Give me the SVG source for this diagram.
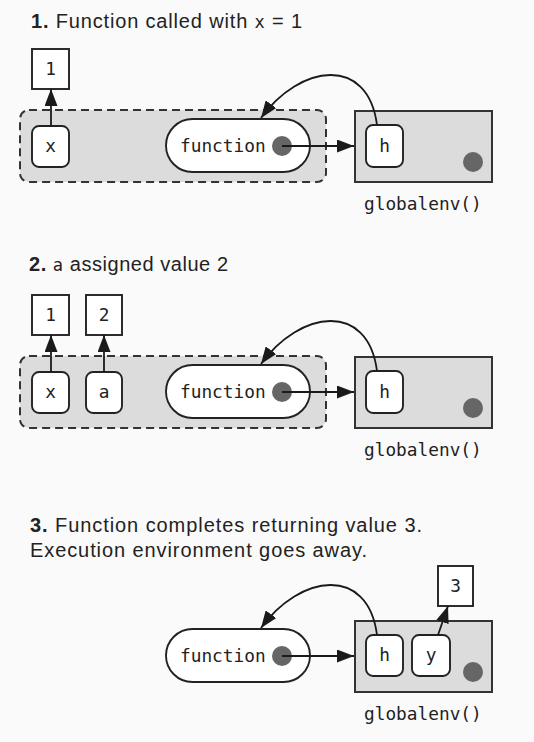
<svg xmlns="http://www.w3.org/2000/svg" width="534" height="742" viewBox="0 0 534 742">
<style>
.bg{fill:#fafafa}
.title{font-family:"Liberation Sans",Arial,sans-serif;font-size:20px;fill:#222}
.b{font-weight:bold}
.code{font-family:"DejaVu Sans Mono","Liberation Mono",monospace;font-size:17px}
.mono{font-family:"DejaVu Sans Mono","Liberation Mono",monospace;font-size:17.8px;fill:#222}
.env{fill:#dcdcdc;stroke:#333;stroke-width:2;stroke-dasharray:8 5}
.genv{fill:#dcdcdc;stroke:#333;stroke-width:2}
.node{fill:#fff;stroke:#222;stroke-width:1.9}
.val{fill:#fff;stroke:#222;stroke-width:1.9}
.dot{fill:#666}
.conn{fill:none;stroke:#1a1a1a;stroke-width:1.8}
</style>
<defs>
<marker id="ah" viewBox="0 0 17 13" refX="17" refY="6.5" markerWidth="17" markerHeight="13" markerUnits="userSpaceOnUse" orient="auto">
<path d="M0,0 L17,6.5 L0,13 Z" fill="#1a1a1a"/>
</marker>
</defs>
<rect class="bg" x="0" y="0" width="534" height="742"/>

<!-- Section 1 -->
<g id="title1"><text class="title" x="31" y="28" textLength="271" lengthAdjust="spacing"><tspan class="b">1.</tspan> Function called with <tspan class="code">x</tspan> = 1</text></g>
<g id="s1-env"><rect class="env" x="20" y="110" width="306" height="72" rx="9"/></g>
<g id="s1-val1"><rect class="val" x="32" y="49" width="37" height="40"/><text class="mono" x="50.5" y="75" text-anchor="middle">1</text></g>
<g id="s1-x"><rect class="node" x="32" y="126" width="37" height="41" rx="7"/><text class="mono" x="50.5" y="152" text-anchor="middle">x</text></g>
<g id="s1-function"><rect class="node" x="166" y="119" width="144" height="53" rx="26.5"/><text class="mono" x="180" y="152">function</text><circle class="dot" cx="282" cy="146" r="10"/></g>
<g id="s1-global"><rect class="genv" x="355" y="111" width="137" height="71"/><circle class="dot" cx="473" cy="162" r="10"/><text class="mono" x="364" y="210">globalenv()</text></g>
<g id="s1-h"><rect class="node" x="366" y="125" width="37" height="42" rx="7"/><text class="mono" x="384.5" y="152" text-anchor="middle">h</text></g>
<g id="s1-connectors">
<line class="conn" x1="51" y1="126" x2="51" y2="89" marker-end="url(#ah)"/>
<line class="conn" x1="282" y1="146" x2="354" y2="146" marker-end="url(#ah)"/>
<path class="conn" d="M377,125 C368,55 300,64 261,118" marker-end="url(#ah)"/>
</g>

<!-- Section 2 -->
<g id="title2"><text class="title" x="29" y="271" textLength="199" lengthAdjust="spacing"><tspan class="b">2.</tspan> <tspan class="code">a</tspan> assigned value 2</text></g>
<g id="s2-env"><rect class="env" x="20" y="356" width="306" height="72" rx="9"/></g>
<g id="s2-val1"><rect class="val" x="32" y="295" width="37" height="40"/><text class="mono" x="50.5" y="321" text-anchor="middle">1</text></g>
<g id="s2-val2"><rect class="val" x="86" y="295" width="36" height="40"/><text class="mono" x="104" y="321" text-anchor="middle">2</text></g>
<g id="s2-x"><rect class="node" x="32" y="372" width="37" height="41" rx="7"/><text class="mono" x="50.5" y="398" text-anchor="middle">x</text></g>
<g id="s2-a"><rect class="node" x="86" y="372" width="36" height="41" rx="7"/><text class="mono" x="104" y="398" text-anchor="middle">a</text></g>
<g id="s2-function"><rect class="node" x="166" y="365" width="144" height="53" rx="26.5"/><text class="mono" x="180" y="398">function</text><circle class="dot" cx="282" cy="392" r="10"/></g>
<g id="s2-global"><rect class="genv" x="355" y="357" width="137" height="71"/><circle class="dot" cx="473" cy="408" r="10"/><text class="mono" x="364" y="456">globalenv()</text></g>
<g id="s2-h"><rect class="node" x="366" y="371" width="37" height="42" rx="7"/><text class="mono" x="384.5" y="398" text-anchor="middle">h</text></g>
<g id="s2-connectors">
<line class="conn" x1="51" y1="372" x2="51" y2="335" marker-end="url(#ah)"/>
<line class="conn" x1="104" y1="372" x2="104" y2="335" marker-end="url(#ah)"/>
<line class="conn" x1="282" y1="392" x2="354" y2="392" marker-end="url(#ah)"/>
<path class="conn" d="M377,371 C368,301 300,310 261,364" marker-end="url(#ah)"/>
</g>

<!-- Section 3 -->
<g id="title3">
<text class="title" x="30" y="532" textLength="392" lengthAdjust="spacing"><tspan class="b">3.</tspan> Function completes returning value 3.</text>
<text class="title" x="30" y="557" textLength="337" lengthAdjust="spacing">Execution environment goes away.</text>
</g>
<g id="s3-val3"><rect class="val" x="438" y="566" width="35" height="40"/><text class="mono" x="455.5" y="592" text-anchor="middle">3</text></g>
<g id="s3-function"><rect class="node" x="166" y="629" width="144" height="53" rx="26.5"/><text class="mono" x="180" y="662">function</text><circle class="dot" cx="282" cy="656" r="10"/></g>
<g id="s3-global"><rect class="genv" x="355" y="621" width="137" height="71"/><circle class="dot" cx="473" cy="672" r="10"/><text class="mono" x="364" y="720">globalenv()</text></g>
<g id="s3-h"><rect class="node" x="366" y="635" width="37" height="41" rx="7"/><text class="mono" x="384.5" y="661" text-anchor="middle">h</text></g>
<g id="s3-y"><rect class="node" x="412" y="635" width="38" height="41" rx="7"/><text class="mono" x="431" y="661" text-anchor="middle">y</text></g>
<g id="s3-connectors">
<line class="conn" x1="438" y1="635" x2="448" y2="606" marker-end="url(#ah)"/>
<line class="conn" x1="282" y1="656" x2="354" y2="656" marker-end="url(#ah)"/>
<path class="conn" d="M377,635 C368,565 300,574 261,628" marker-end="url(#ah)"/>
</g>
</svg>
